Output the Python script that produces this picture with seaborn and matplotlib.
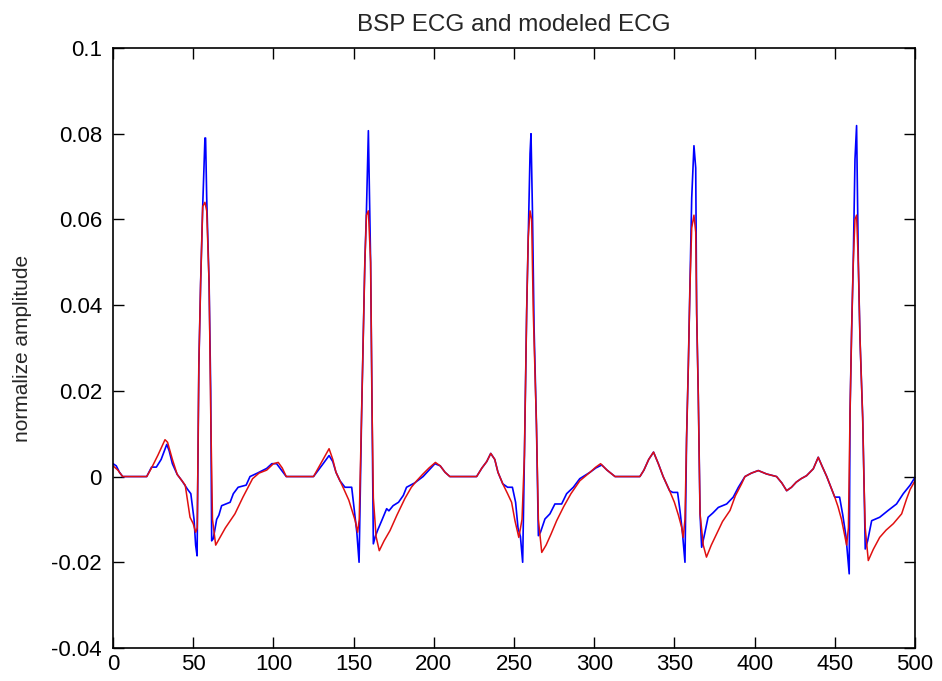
import matplotlib
matplotlib.use("Agg")
import matplotlib.pyplot as plt
import seaborn as sns
import pandas as pd

# ---- data ----
bsp_x = [0, 2, 4, 6, 21, 24, 27, 30, 33.5, 35, 37, 40, 43, 46.5, 48.5, 50.5, 51.5, 52.4,
         53.5, 54.6, 55.9, 57.3, 57.7, 58.4, 59.9, 60.9, 61.5, 62.5, 64.6, 66, 67.7, 73, 75,
         78, 83, 85.4, 90, 95.8, 99, 102, 105, 108,
         125, 128, 131, 134.7, 137, 139, 141.5, 144.6, 148.8, 150.5, 152, 153.4,
         155, 156, 157, 158, 159.2, 160.6, 161.5, 162.3, 163.5, 165, 167.5, 170.6, 172,
         174.6, 178, 181, 183, 188, 193.3, 197, 200.7, 204, 207, 210,
         226.7, 230, 233, 235.5, 238, 240, 243, 246, 249, 251, 252.5, 254, 255.4,
         256.5, 257.9, 258.9, 260, 260.6, 261.5, 262.5, 264, 265.2, 266.5, 269.3, 272.4,
         275.5, 279.7, 282.8, 287, 291, 297.4, 301, 304.7, 308, 313,
         328.5, 331, 334, 337, 340, 343, 347, 349, 352, 353.5, 355, 356.6,
         357.6, 358.7, 359.7, 360.8, 362.2, 363.3, 363.9, 364.9, 366, 367, 368.5, 371, 374,
         377.4, 382.6, 386.7, 389.9, 394, 398, 402.3, 407.5, 413.7, 417, 420, 423, 426,
         429, 432.4, 436.6, 439.7, 442, 445, 450, 453, 455, 457, 459,
         459.5, 460.5, 461.5, 462.6, 463.6, 464.7, 465.7, 467.4, 468.3, 469, 470.5, 473,
         478, 483.3, 488.5, 492.7, 497, 500]
bsp_y = [0.003, 0.0025, 0.001, 0, 0, 0.0022, 0.0022, 0.004, 0.0075, 0.006, 0.003, 0.0005,
         -0.001, -0.003, -0.004, -0.010, -0.016, -0.0185,
         0.026, 0.045, 0.063, 0.079, 0.079, 0.065, 0.045, 0.020, -0.015, -0.0145, -0.010,
         -0.009, -0.0068, -0.006, -0.004, -0.0025, -0.002, 0, 0.0008, 0.0019, 0.003, 0.003,
         0.0015, 0,
         0, 0.0015, 0.003, 0.0049, 0.0035, 0.001, -0.001, -0.0025, -0.0025, -0.008, -0.013,
         -0.020,
         0.015, 0.033, 0.050, 0.062, 0.0807, 0.050, 0.016, -0.0157, -0.014, -0.0125,
         -0.0103, -0.0075, -0.008, -0.0068, -0.006, -0.0044, -0.0025, -0.0015, 0, 0.0015,
         0.003, 0.0025, 0.001, 0,
         0, 0.002, 0.0035, 0.0054, 0.004, 0.001, -0.0017, -0.0025, -0.0025, -0.006, -0.012,
         -0.014, -0.020,
         0.005, 0.0387, 0.056, 0.0754, 0.080, 0.062, 0.035, 0.012, -0.0138, -0.013, -0.0099,
         -0.0087, -0.0064, -0.0064, -0.004, -0.0025, -0.0005, 0.001, 0.002, 0.0027, 0.0015, 0,
         0, 0.0015, 0.004, 0.0057, 0.003, 0, -0.0033, -0.0037, -0.0037, -0.008, -0.013,
         -0.020,
         0.009, 0.026, 0.044, 0.065, 0.0772, 0.072, 0.038, 0.019, -0.0087, -0.0165, -0.014,
         -0.0095, -0.0085, -0.0072, -0.0064, -0.0048, -0.0025, 0, 0.0008, 0.0014, 0.0006, 0,
         -0.0015, -0.0033, -0.0025, -0.0013, -0.0005, 0.0002, 0.0018, 0.0045, 0.0025, 0,
         -0.0048, -0.0048, -0.009, -0.014, -0.0227,
         0.0146, 0.034, 0.0496, 0.074, 0.0819, 0.0496, 0.0325, 0.0138, -0.0025, -0.0169,
         -0.015, -0.0103, -0.0095, -0.0079, -0.0064, -0.004, -0.002, -0.0002]

model_x = [0, 3, 6, 21, 24, 28, 32.4, 34, 37, 40, 43, 45, 48, 50, 51.5, 52.5,
           53.5, 54.6, 55.9, 57.3, 58.4, 59.9, 60.9, 62, 64, 67, 70, 76, 81, 87, 91, 95.8,
           100, 103, 105.5, 108,
           125, 128, 131, 134.7, 137, 139, 141.5, 144, 147, 151, 152.5, 153.5,
           155, 156, 157, 158, 159.2, 160.6, 161.5, 162.3, 164, 166, 169, 172.7, 177, 182,
           186, 189.3, 193, 197, 201, 204, 207, 210,
           226.7, 230, 233, 235.5, 238, 240, 243, 246, 248.5, 250.6, 253, 255,
           256.5, 257.9, 258.9, 260, 261, 262, 264, 265.2, 267.3, 270, 273, 276.6, 281,
           285.5, 291, 297.4, 301, 304, 308, 313,
           328.5, 331, 334, 337, 340, 343, 347, 350, 352.5, 354.5, 355.5, 356.6,
           357.6, 358.7, 359.7, 360.8, 362.2, 363.3, 363.9, 364.9, 366, 368, 370, 373, 376.3,
           380, 384.7, 388, 391.9, 394, 398, 402.3, 407.5, 413.7, 417, 420, 423, 426, 429,
           432.4, 436.6, 439.7, 442, 445, 450, 452, 454.2, 457.4, 458.5,
           459.5, 460.5, 461.5, 462.6, 463.6, 464.7, 465.7, 467.4, 468.3, 469, 470.9, 474,
           478, 482, 486.5, 491.7, 494.8, 497, 500]
model_y = [0.0025, 0.0015, 0, 0, 0.002, 0.005, 0.0086, 0.008, 0.004, 0.0005, -0.001,
           -0.002, -0.0095, -0.011, -0.013, -0.012,
           0.026, 0.045, 0.063, 0.064, 0.062, 0.045, 0.015, -0.010, -0.016, -0.014, -0.012,
           -0.0087, -0.0048, -0.0005, 0.0008, 0.0015, 0.003, 0.0033, 0.002, 0,
           0, 0.002, 0.004, 0.0065, 0.004, 0.001, -0.001, -0.003, -0.0055, -0.0103, -0.013,
           -0.010,
           0.015, 0.033, 0.050, 0.061, 0.062, 0.050, 0.016, -0.005, -0.014, -0.0173, -0.015,
           -0.0126, -0.009, -0.0051, -0.0025, -0.001, 0.0005, 0.002, 0.0033, 0.0025, 0.001, 0,
           0, 0.002, 0.0035, 0.0054, 0.004, 0.001, -0.0017, -0.004, -0.006, -0.0103, -0.0142,
           -0.010,
           0.005, 0.0387, 0.056, 0.062, 0.060, 0.0387, 0.012, -0.010, -0.0177, -0.016,
           -0.0135, -0.0103, -0.007, -0.004, -0.001, 0.001, 0.0022, 0.003, 0.0015, 0,
           0, 0.0015, 0.004, 0.0057, 0.003, 0, -0.0033, -0.006, -0.009, -0.0118, -0.0142,
           -0.010,
           0.009, 0.026, 0.044, 0.058, 0.061, 0.057, 0.038, 0.019, -0.0087, -0.016, -0.0188,
           -0.016, -0.0134, -0.0105, -0.0079, -0.0045, -0.0017, 0, 0.0008, 0.0014, 0.0006, 0,
           -0.0015, -0.0033, -0.0025, -0.0013, -0.0005, 0.0002, 0.0018, 0.0045, 0.0025, 0,
           -0.0048, -0.007, -0.010, -0.016, -0.012,
           0.0146, 0.034, 0.0496, 0.060, 0.061, 0.0496, 0.0325, 0.0138, -0.0025, -0.012,
           -0.0196, -0.017, -0.0142, -0.0125, -0.011, -0.0087, -0.0052, -0.003, -0.001]

x_ticks = [0, 50, 100, 150, 200, 250, 300, 350, 400, 450, 500]
y_ticks = [-0.04, -0.02, 0, 0.02, 0.04, 0.06, 0.08, 0.1]
y_tick_labels = ["-0.04", "-0.02", "0", "0.02", "0.04", "0.06", "0.08", "0.1"]

title_text = "BSP ECG and modeled ECG"
ylabel_text = "normalize amplitude"

# ---- plot ----
sns.set_style("ticks")
plt.rcParams["font.family"] = ["Liberation Sans", "DejaVu Sans"]

fig = plt.figure(figsize=(9.42, 6.81), dpi=100)
ax = fig.add_axes([0.12, 0.0485, 0.8513, 0.881])

bsp = pd.DataFrame({"x": bsp_x, "y": bsp_y})
model = pd.DataFrame({"x": model_x, "y": model_y})

sns.lineplot(data=bsp, x="x", y="y", color="#0000ff", linewidth=1.2,
             estimator=None, sort=False, ax=ax)
sns.lineplot(data=model, x="x", y="y", color="#e01010", linewidth=1.1,
             estimator=None, sort=False, ax=ax)

ax.set_xlim(0, 500)
ax.set_ylim(-0.04, 0.1)
ax.set_xticks(x_ticks)
ax.set_xticklabels([str(t) for t in x_ticks])
ax.set_yticks(y_ticks)
ax.set_yticklabels(y_tick_labels)
ax.tick_params(axis="both", which="both", direction="in", length=8, width=1,
               top=True, right=True, labelsize=16, colors="black")
ax.tick_params(axis="y", pad=8)
ax.tick_params(axis="x", pad=4)
for s in ax.spines.values():
    s.set_visible(True)
    s.set_linewidth(1.2)
    s.set_color("black")

ax.set_title(title_text, fontsize=17.5, pad=12)
ax.set_xlabel("")
ax.set_ylabel(ylabel_text, fontsize=15, labelpad=14)

fig.savefig("out.png", dpi=100)
